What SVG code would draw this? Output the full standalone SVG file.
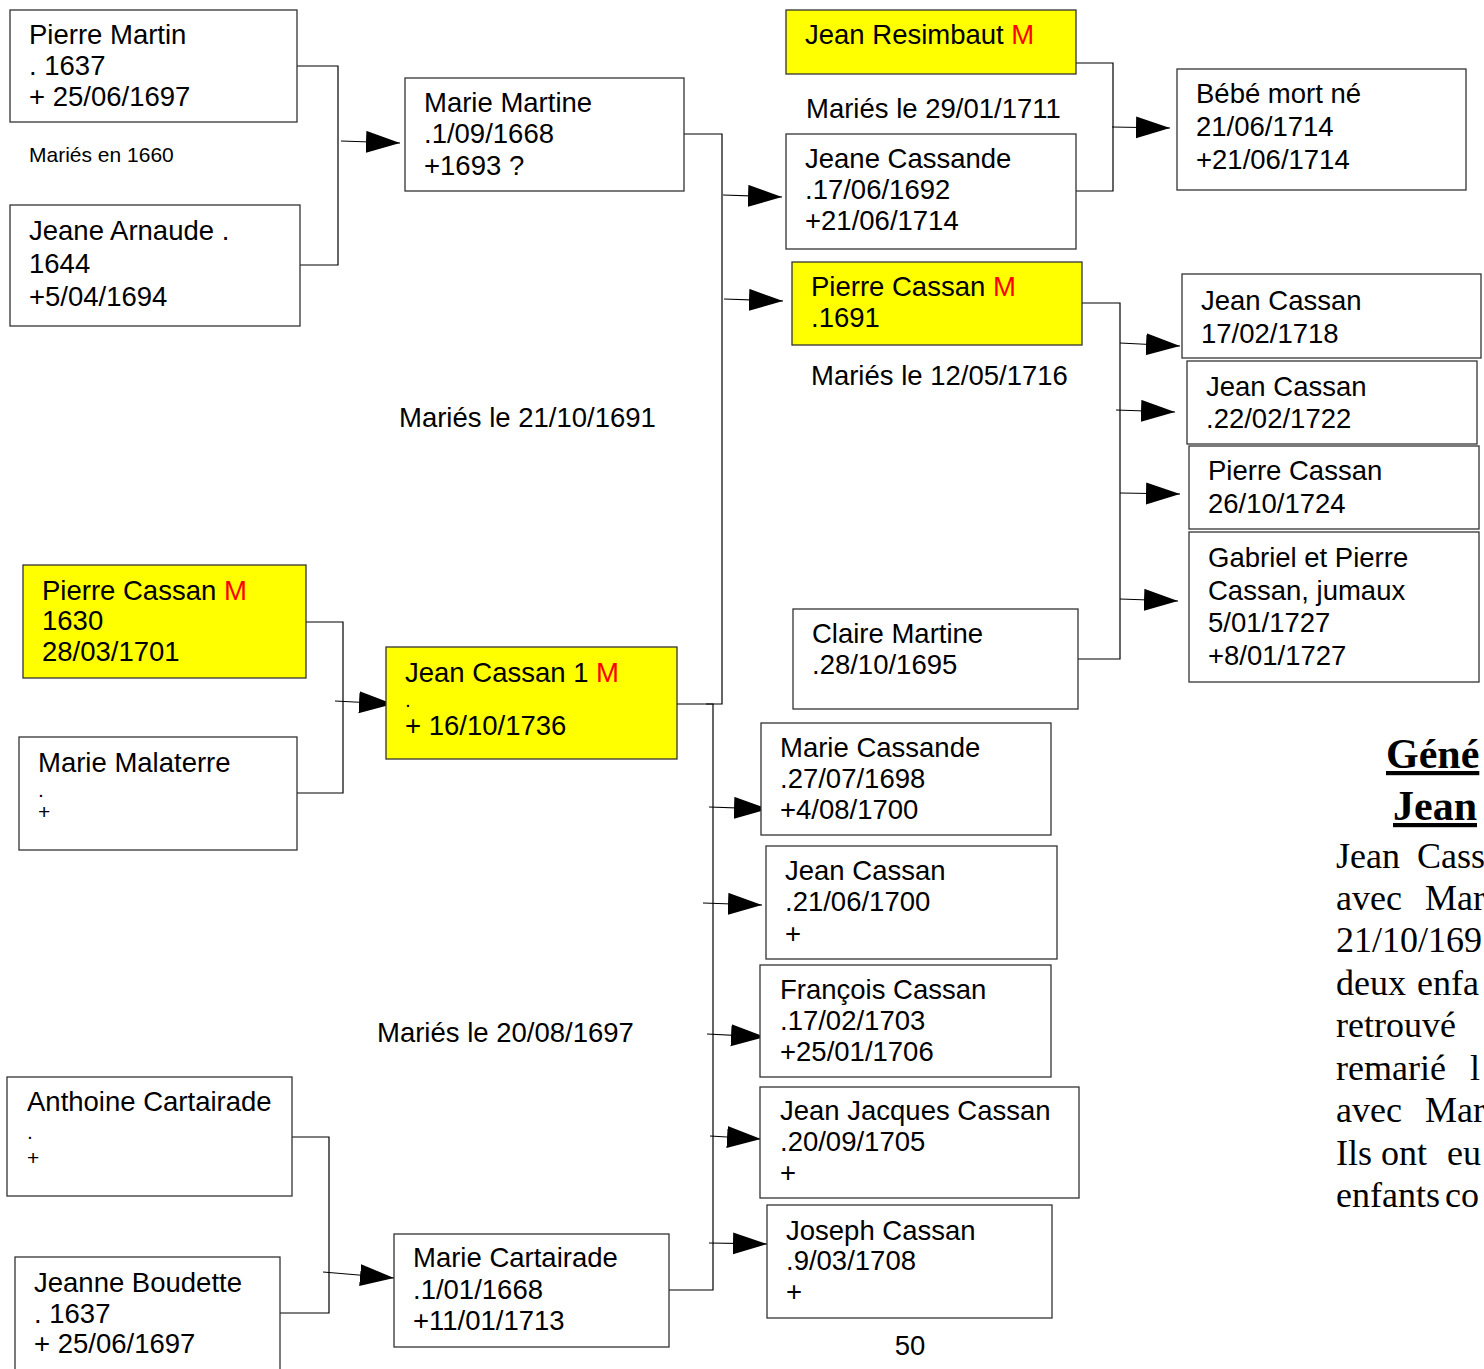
<svg xmlns="http://www.w3.org/2000/svg" width="1484" height="1369" viewBox="0 0 1484 1369">
<defs>
<marker id="ah" markerUnits="userSpaceOnUse" markerWidth="36" markerHeight="24" refX="34" refY="11" orient="auto">
<path d="M0,0 L34,11 L0,22 z" fill="#000"/>
</marker>
<style>
.box{fill:#fff;stroke:#333;stroke-width:1.3}
.ybox{fill:#ffff00;stroke:#333;stroke-width:1.3}
text{font-family:"Liberation Sans",Arial,sans-serif;font-size:27.5px;fill:#000}
.sm{font-size:21px}
.red{fill:#ff0000}
.ln{fill:none;stroke:#000;stroke-width:1.2}
.ar{fill:none;stroke:#000;stroke-width:1.2;marker-end:url(#ah)}
.ser{font-family:"Liberation Serif","Times New Roman",serif;font-size:36px}
.tit{font-family:"Liberation Serif","Times New Roman",serif;font-size:42px;font-weight:bold;text-decoration:underline}
</style>
</defs>
<rect width="1484" height="1369" fill="#fff"/>

<g id="connectors">
<polyline class="ln" points="297,66 338,66 338,265 300,265"/>
<line class="ar" x1="341" y1="141" x2="400" y2="143"/>
<polyline class="ln" points="684,134 722,134 722,704 677,704"/>
<polyline class="ln" points="706,704 713,704 713,1290 669,1290"/>
<line class="ar" x1="723" y1="195" x2="782" y2="197"/>
<line class="ar" x1="724" y1="299" x2="783" y2="301"/>
<polyline class="ln" points="1067,63 1113,63 1113,191 1076,191"/>
<line class="ar" x1="1112" y1="127" x2="1170" y2="128"/>
<polyline class="ln" points="1082,303 1120,303 1120,659 1078,659"/>
<line class="ar" x1="1120" y1="343" x2="1180" y2="346"/>
<line class="ar" x1="1116" y1="410" x2="1175" y2="412"/>
<line class="ar" x1="1120" y1="493" x2="1180" y2="494"/>
<line class="ar" x1="1120" y1="599" x2="1178" y2="601"/>
<polyline class="ln" points="306,622 343,622 343,793 297,793"/>
<line class="ar" x1="335" y1="701" x2="393" y2="704"/>
<line class="ar" x1="709" y1="807" x2="768" y2="809"/>
<line class="ar" x1="703" y1="903" x2="762" y2="905"/>
<line class="ar" x1="707" y1="1034" x2="765" y2="1037"/>
<line class="ar" x1="710" y1="1136" x2="761" y2="1139"/>
<line class="ar" x1="709" y1="1243" x2="767" y2="1244"/>
<polyline class="ln" points="292,1137 329,1137 329,1313 280,1313"/>
<line class="ar" x1="323" y1="1272" x2="394" y2="1278"/>
</g>

<g id="pierre-martin">
<rect class="box" x="10" y="10" width="287" height="112"/>
<text x="29" y="44">Pierre Martin</text>
<text x="29" y="75">. 1637</text>
<text x="29" y="106">+ 25/06/1697</text>
</g>
<text class="sm" x="29" y="162">Mariés en 1660</text>
<g id="jeane-arnaude">
<rect class="box" x="10" y="205" width="290" height="121"/>
<text x="29" y="240">Jeane Arnaude .</text>
<text x="29" y="273">1644</text>
<text x="29" y="306">+5/04/1694</text>
</g>
<g id="marie-martine">
<rect class="box" x="405" y="78" width="279" height="113"/>
<text x="424" y="112">Marie Martine</text>
<text x="424" y="143">.1/09/1668</text>
<text x="424" y="175">+1693 ?</text>
</g>
<g id="jean-resimbaut">
<rect class="ybox" x="786" y="10" width="290" height="64"/>
<text x="805" y="44">Jean Resimbaut <tspan class="red">M</tspan></text>
</g>
<text x="806" y="118">Mariés le 29/01/1711</text>
<g id="jeane-cassande">
<rect class="box" x="786" y="134" width="290" height="115"/>
<text x="805" y="168">Jeane Cassande</text>
<text x="805" y="199">.17/06/1692</text>
<text x="805" y="230">+21/06/1714</text>
</g>
<g id="bebe">
<rect class="box" x="1177" y="69" width="289" height="121"/>
<text x="1196" y="103">Bébé mort né</text>
<text x="1196" y="136">21/06/1714</text>
<text x="1196" y="169">+21/06/1714</text>
</g>
<g id="pierre-cassan-1691">
<rect class="ybox" x="792" y="262" width="290" height="83"/>
<text x="811" y="296">Pierre Cassan <tspan class="red">M</tspan></text>
<text x="811" y="327">.1691</text>
</g>
<text x="811" y="385">Mariés le 12/05/1716</text>
<g id="jean-cassan-1718">
<rect class="box" x="1182" y="274" width="299" height="84"/>
<text x="1201" y="310">Jean Cassan</text>
<text x="1201" y="343">17/02/1718</text>
</g>
<g id="jean-cassan-1722">
<rect class="box" x="1187" y="361" width="290" height="83"/>
<text x="1206" y="396">Jean Cassan</text>
<text x="1206" y="428">.22/02/1722</text>
</g>
<g id="pierre-cassan-1724">
<rect class="box" x="1189" y="446" width="290" height="83"/>
<text x="1208" y="480">Pierre Cassan</text>
<text x="1208" y="513">26/10/1724</text>
</g>
<g id="gabriel-pierre">
<rect class="box" x="1189" y="532" width="290" height="150"/>
<text x="1208" y="567">Gabriel et Pierre</text>
<text x="1208" y="600">Cassan, jumaux</text>
<text x="1208" y="632">5/01/1727</text>
<text x="1208" y="665">+8/01/1727</text>
</g>
<g id="claire-martine">
<rect class="box" x="793" y="609" width="285" height="100"/>
<text x="812" y="643">Claire Martine</text>
<text x="812" y="674">.28/10/1695</text>
</g>
<text x="399" y="427">Mariés le 21/10/1691</text>
<g id="pierre-cassan-1630">
<rect class="ybox" x="23" y="565" width="283" height="113"/>
<text x="42" y="600">Pierre Cassan <tspan class="red">M</tspan></text>
<text x="42" y="630">1630</text>
<text x="42" y="661">28/03/1701</text>
</g>
<g id="marie-malaterre">
<rect class="box" x="19" y="737" width="278" height="113"/>
<text x="38" y="772">Marie Malaterre</text>
<text class="sm" x="38" y="797">.</text>
<text class="sm" x="38" y="819">+</text>
</g>
<g id="jean-cassan-1">
<rect class="ybox" x="386" y="647" width="291" height="112"/>
<text x="405" y="682">Jean Cassan 1 <tspan class="red">M</tspan></text>
<text class="sm" x="405" y="707">.</text>
<text x="405" y="735">+ 16/10/1736</text>
</g>
<g id="marie-cassande">
<rect class="box" x="761" y="723" width="290" height="112"/>
<text x="780" y="757">Marie Cassande</text>
<text x="780" y="788">.27/07/1698</text>
<text x="780" y="819">+4/08/1700</text>
</g>
<g id="jean-cassan-1700">
<rect class="box" x="766" y="846" width="291" height="113"/>
<text x="785" y="880">Jean Cassan</text>
<text x="785" y="911">.21/06/1700</text>
<text x="785" y="943">+</text>
</g>
<g id="francois-cassan">
<rect class="box" x="760" y="965" width="291" height="112"/>
<text x="780" y="999">François Cassan</text>
<text x="780" y="1030">.17/02/1703</text>
<text x="780" y="1061">+25/01/1706</text>
</g>
<text x="377" y="1042">Mariés le 20/08/1697</text>
<g id="jean-jacques-cassan">
<rect class="box" x="760" y="1087" width="319" height="111"/>
<text x="780" y="1120">Jean Jacques Cassan</text>
<text x="780" y="1151">.20/09/1705</text>
<text x="780" y="1182">+</text>
</g>
<g id="joseph-cassan">
<rect class="box" x="767" y="1205" width="285" height="113"/>
<text x="786" y="1240">Joseph Cassan</text>
<text x="786" y="1270">.9/03/1708</text>
<text x="786" y="1301">+</text>
</g>
<text x="910" y="1355" text-anchor="middle">50</text>
<g id="anthoine-cartairade">
<rect class="box" x="7" y="1077" width="285" height="119"/>
<text x="27" y="1111">Anthoine Cartairade</text>
<text class="sm" x="27" y="1139">.</text>
<text class="sm" x="27" y="1165">+</text>
</g>
<g id="jeanne-boudette">
<rect class="box" x="15" y="1257" width="265" height="130"/>
<text x="34" y="1292">Jeanne Boudette</text>
<text x="34" y="1323">. 1637</text>
<text x="34" y="1353">+ 25/06/1697</text>
</g>
<g id="marie-cartairade">
<rect class="box" x="394" y="1234" width="275" height="113"/>
<text x="413" y="1267">Marie Cartairade</text>
<text x="413" y="1299">.1/01/1668</text>
<text x="413" y="1330">+11/01/1713</text>
</g>

<g id="side-text">
<text class="tit" x="1386" y="768">Géné</text>
<text class="tit" x="1393" y="820">Jean</text>
<text class="ser" x="1336" y="868">Jean</text><text class="ser" x="1417" y="868">Cass</text>
<text class="ser" x="1336" y="910">avec</text><text class="ser" x="1425" y="910">Mar</text>
<text class="ser" x="1336" y="952">21/10/169</text>
<text class="ser" x="1336" y="995">deux</text><text class="ser" x="1417" y="995">enfa</text>
<text class="ser" x="1336" y="1037">retrouvé</text>
<text class="ser" x="1336" y="1080">remarié</text><text class="ser" x="1470" y="1080">l</text>
<text class="ser" x="1336" y="1122">avec</text><text class="ser" x="1425" y="1122">Mar</text>
<text class="ser" x="1336" y="1165">Ils ont</text><text class="ser" x="1447" y="1165">eu</text>
<text class="ser" x="1336" y="1207">enfants</text><text class="ser" x="1445" y="1207">co</text>
</g>
</svg>
